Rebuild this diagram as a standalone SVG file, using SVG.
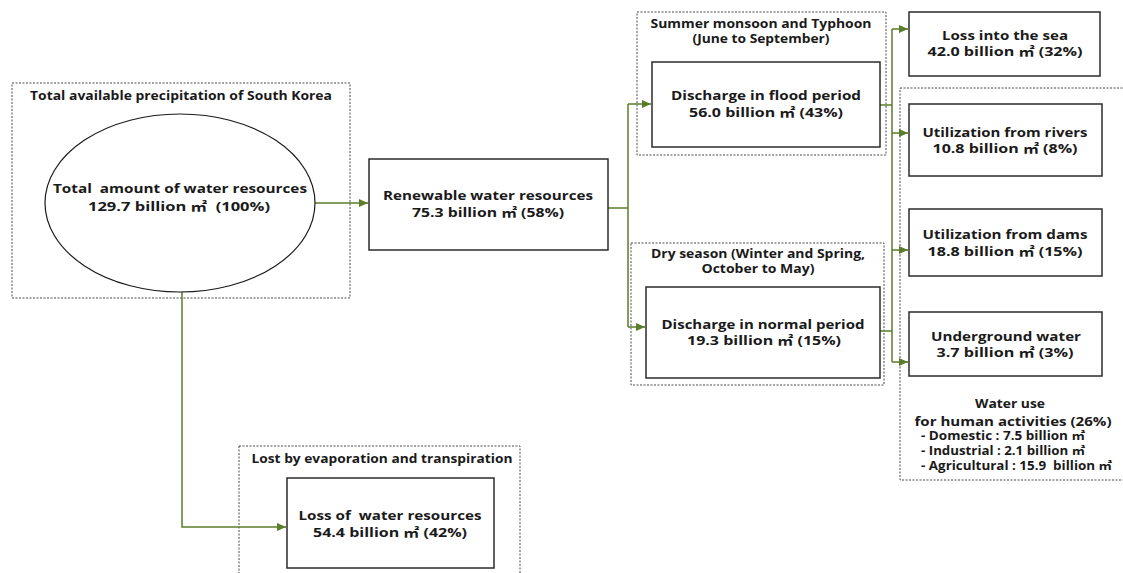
<svg xmlns="http://www.w3.org/2000/svg" width="1123" height="573" viewBox="0 0 1123 573">
  <style>
    text { font-family: "Open Sans", "Noto Sans CJK KR", sans-serif; font-weight: 700; fill: #1a1a1a; white-space: pre; }
    .main { font-size: 13px; }
    .cap { font-size: 12px; }
    .list { font-size: 11.5px; }
    .c { text-anchor: middle; }
    .box { fill: #ffffff; stroke: #2b2b2b; stroke-width: 1.5; }
    .frame { fill: none; stroke: #4a4a4a; stroke-width: 1; stroke-dasharray: 2 1.5; }
    .link { fill: none; stroke: #5a7d2a; stroke-width: 1.5; }
  </style>
  <defs>
    <marker id="arrow" markerUnits="userSpaceOnUse" markerWidth="10" markerHeight="8" refX="9" refY="4" orient="auto">
      <path d="M0,0 L9,4 L0,8 z" fill="#5a7d2a"/>
    </marker>
  </defs>

  <rect width="1123" height="573" fill="#ffffff"/>

  <!-- dashed grouping frames -->
  <g id="frames">
    <rect class="frame" x="12" y="83" width="338" height="215"/>
    <rect class="frame" x="637" y="12" width="249" height="143"/>
    <rect class="frame" x="631" y="243" width="253" height="142"/>
    <rect class="frame" x="900" y="88" width="240" height="392"/>
    <rect class="frame" x="239" y="446" width="281" height="140"/>
  </g>

  <!-- connectors -->
  <g id="connectors">
    <path class="link" d="M315,203 H368" marker-end="url(#arrow)"/>
    <path class="link" d="M182,292 V527 H286" marker-end="url(#arrow)"/>
    <path class="link" d="M608,208 H628"/>
    <path class="link" d="M628,104 V327"/>
    <path class="link" d="M628,104 H651" marker-end="url(#arrow)"/>
    <path class="link" d="M628,327 H645" marker-end="url(#arrow)"/>
    <path class="link" d="M880,105 H892"/>
    <path class="link" d="M880,331 H892"/>
    <path class="link" d="M892,29 V362"/>
    <path class="link" d="M892,29 H908" marker-end="url(#arrow)"/>
    <path class="link" d="M892,133 H908" marker-end="url(#arrow)"/>
    <path class="link" d="M892,250 H908" marker-end="url(#arrow)"/>
    <path class="link" d="M892,362 H908" marker-end="url(#arrow)"/>
  </g>

  <g id="precipitation">
    <text class="cap c" x="181" y="100" textLength="302" lengthAdjust="spacingAndGlyphs">Total available precipitation of South Korea</text>
  </g>

  <g id="total">
    <ellipse cx="180" cy="203" rx="135" ry="89" fill="#ffffff" stroke="#1a1a1a" stroke-width="1.2"/>
    <text class="main c" x="180" y="193" textLength="254" lengthAdjust="spacingAndGlyphs">Total  amount of water resources</text>
    <text class="main c" x="179" y="211" textLength="182" lengthAdjust="spacingAndGlyphs">129.7 billion ㎡  (100%)</text>
  </g>

  <g id="renewable">
    <rect class="box" x="369" y="159" width="239" height="91"/>
    <text class="main c" x="488" y="200" textLength="210" lengthAdjust="spacingAndGlyphs">Renewable water resources</text>
    <text class="main c" x="488" y="217" textLength="152" lengthAdjust="spacingAndGlyphs">75.3 billion ㎡ (58%)</text>
  </g>

  <g id="flood">
    <text class="cap c" x="761" y="28" textLength="221" lengthAdjust="spacingAndGlyphs">Summer monsoon and Typhoon</text>
    <text class="cap c" x="761" y="43" textLength="137" lengthAdjust="spacingAndGlyphs">(June to September)</text>
    <rect class="box" x="652" y="62" width="228" height="85"/>
    <text class="main c" x="766" y="100" textLength="190" lengthAdjust="spacingAndGlyphs">Discharge in flood period</text>
    <text class="main c" x="766" y="117" textLength="154" lengthAdjust="spacingAndGlyphs">56.0 billion ㎡ (43%)</text>
  </g>

  <g id="normal">
    <text class="cap c" x="758" y="258" textLength="214" lengthAdjust="spacingAndGlyphs">Dry season (Winter and Spring,</text>
    <text class="cap c" x="758" y="273" textLength="113" lengthAdjust="spacingAndGlyphs">October to May)</text>
    <rect class="box" x="646" y="287" width="234" height="91"/>
    <text class="main c" x="763" y="329" textLength="203" lengthAdjust="spacingAndGlyphs">Discharge in normal period</text>
    <text class="main c" x="764" y="345" textLength="154" lengthAdjust="spacingAndGlyphs">19.3 billion ㎡ (15%)</text>
  </g>

  <g id="sea">
    <rect class="box" x="909" y="12" width="191" height="64"/>
    <text class="main c" x="1005" y="40" textLength="126" lengthAdjust="spacingAndGlyphs">Loss into the sea</text>
    <text class="main c" x="1005" y="56" textLength="155" lengthAdjust="spacingAndGlyphs">42.0 billion ㎡ (32%)</text>
  </g>

  <g id="rivers">
    <rect class="box" x="909" y="104" width="193" height="72"/>
    <text class="main c" x="1005" y="137" textLength="165" lengthAdjust="spacingAndGlyphs">Utilization from rivers</text>
    <text class="main c" x="1005" y="153" textLength="145" lengthAdjust="spacingAndGlyphs">10.8 billion ㎡ (8%)</text>
  </g>

  <g id="dams">
    <rect class="box" x="909" y="209" width="193" height="67"/>
    <text class="main c" x="1005" y="239" textLength="165" lengthAdjust="spacingAndGlyphs">Utilization from dams</text>
    <text class="main c" x="1005" y="256" textLength="155" lengthAdjust="spacingAndGlyphs">18.8 billion ㎡ (15%)</text>
  </g>

  <g id="underground">
    <rect class="box" x="909" y="312" width="193" height="64"/>
    <text class="main c" x="1006" y="341" textLength="150" lengthAdjust="spacingAndGlyphs">Underground water</text>
    <text class="main c" x="1005" y="357" textLength="137" lengthAdjust="spacingAndGlyphs">3.7 billion ㎡ (3%)</text>
  </g>

  <g id="human-use">
    <text class="main c" x="1010" y="408" textLength="70" lengthAdjust="spacingAndGlyphs">Water use</text>
    <text class="main c" x="1013" y="426" textLength="197" lengthAdjust="spacingAndGlyphs">for human activities (26%)</text>
    <text class="list" x="921" y="440" textLength="164" lengthAdjust="spacingAndGlyphs">- Domestic : 7.5 billion ㎡</text>
    <text class="list" x="921" y="455" textLength="164" lengthAdjust="spacingAndGlyphs">- Industrial : 2.1 billion ㎡</text>
    <text class="list" x="921" y="470" textLength="191" lengthAdjust="spacingAndGlyphs">- Agricultural : 15.9  billion ㎡</text>
  </g>

  <g id="evaporation">
    <text class="cap c" x="382" y="463" textLength="261" lengthAdjust="spacingAndGlyphs">Lost by evaporation and transpiration</text>
    <rect class="box" x="287" y="478" width="207" height="90"/>
    <text class="main c" x="390" y="520" textLength="183" lengthAdjust="spacingAndGlyphs">Loss of  water resources</text>
    <text class="main c" x="390" y="537" textLength="154" lengthAdjust="spacingAndGlyphs">54.4 billion ㎡ (42%)</text>
  </g>
</svg>
